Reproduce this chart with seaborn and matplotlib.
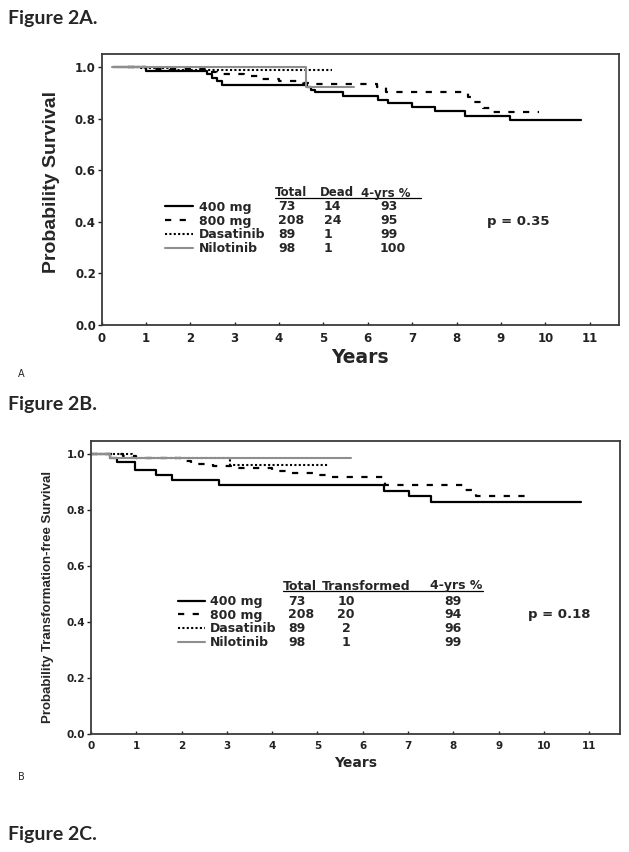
import matplotlib
matplotlib.use("Agg")
import matplotlib.pyplot as plt
import seaborn as sns
from matplotlib.lines import Line2D

# ---- data ----
groups = ["400 mg", "800 mg", "Dasatinib", "Nilotinib"]

# Figure 2A: overall survival (Kaplan-Meier step points)
a400_t = [0.25, 1.0, 2.38, 2.5, 2.6, 2.71, 4.62, 4.73, 4.81, 5.45, 6.23, 6.46, 6.99, 7.51, 8.19, 9.2, 10.81]
a400_s = [1.0, 0.986, 0.972, 0.958, 0.944, 0.93, 0.921, 0.911, 0.904, 0.888, 0.872, 0.859, 0.846, 0.829, 0.81, 0.793, 0.793]
a800_t = [0.6, 1.0, 2.45, 2.6, 3.2, 3.6, 4.0, 4.55, 4.7, 6.2, 6.4, 8.25, 8.4, 8.6, 8.75, 9.85]
a800_s = [1.0, 0.99, 0.98, 0.973, 0.963, 0.955, 0.946, 0.937, 0.933, 0.924, 0.904, 0.884, 0.865, 0.84, 0.827, 0.827]
adas_t = [0.6, 0.9, 1.5, 5.2]
adas_s = [1.0, 0.994, 0.988, 0.988]
anil_t = [0.23, 4.6, 5.7]
anil_s = [1.0, 0.924, 0.924]

a_total = [73, 208, 89, 98]
a_dead = [14, 24, 1, 1]
a_4yr = [93, 95, 99, 100]

# Figure 2B: transformation-free survival
b400_t = [0.0, 0.43, 0.58, 0.98, 1.43, 1.79, 2.83, 6.47, 7.02, 7.5, 10.81]
b400_s = [1.0, 0.987, 0.97, 0.943, 0.925, 0.907, 0.889, 0.869, 0.85, 0.827, 0.827]
b800_t = [0.0, 0.7, 1.0, 2.0, 2.2, 2.7, 3.2, 4.0, 4.4, 4.9, 5.2, 6.5, 8.25, 8.5, 9.65]
b800_s = [1.0, 0.993, 0.986, 0.975, 0.963, 0.955, 0.948, 0.938, 0.93, 0.925, 0.917, 0.889, 0.87, 0.848, 0.848]
bdas_t = [0.0, 0.9, 3.08, 5.25]
bdas_s = [1.0, 0.985, 0.96, 0.96]
bnil_t = [0.0, 0.43, 5.73]
bnil_s = [1.0, 0.987, 0.987]

b_total = [73, 208, 89, 98]
b_transformed = [10, 20, 2, 1]
b_4yr = [89, 94, 96, 99]

x_ticks = list(range(12))
y_ticks = [0.0, 0.2, 0.4, 0.6, 0.8, 1.0]

# ---- styling ----
sns.set_theme(style="white")
plt.rcParams["font.family"] = ["DejaVu Sans"]

STYLES = {
    "400 mg": dict(color="black", linewidth=1.6, linestyle="-"),
    "800 mg": dict(color="black", linewidth=1.6, linestyle=(0, (2.8, 3.8))),
    "Dasatinib": dict(color="black", linewidth=1.5, linestyle=(0, (1, 1.1))),
    "Nilotinib": dict(color="#8e8e8e", linewidth=1.5, linestyle="-"),
}

W, H = 629, 852


def fx(x):
    return x / W


def fy(y):
    return 1 - y / H


fig = plt.figure(figsize=(W / 100, H / 100), dpi=100)
axA = fig.add_axes([fx(101.5), fy(325), (619 - 101.5) / W, (325 - 54) / H])
axB = fig.add_axes([fx(91), fy(734), (620 - 91) / W, (734 - 441) / H])


def draw_curves(ax, curves):
    for name, t, s in curves:
        sns.lineplot(x=t, y=s, ax=ax, drawstyle="steps-post",
                     estimator=None, sort=False, **STYLES[name])


draw_curves(axA, [("400 mg", a400_t, a400_s), ("800 mg", a800_t, a800_s),
                  ("Dasatinib", adas_t, adas_s), ("Nilotinib", anil_t, anil_s)])
draw_curves(axB, [("400 mg", b400_t, b400_s), ("800 mg", b800_t, b800_s),
                  ("Dasatinib", bdas_t, bdas_s), ("Nilotinib", bnil_t, bnil_s)])


def style_axes(ax, xmax, ymax, tick_size, xpad):
    ax.set_xlim(0, xmax)
    ax.set_ylim(0, ymax)
    ax.set_xticks(x_ticks)
    ax.set_xticklabels([str(v) for v in x_ticks], fontweight="bold")
    ax.set_yticks(y_ticks)
    ax.set_yticklabels([f"{v:.1f}" for v in y_ticks], fontweight="bold")
    ax.set_xlabel("")
    ax.set_ylabel("")
    ax.tick_params(axis="x", direction="in", length=2.5, width=1,
                   pad=xpad, labelsize=tick_size, colors="#222222", bottom=True)
    ax.tick_params(axis="y", direction="out", length=3, width=1,
                   pad=1, labelsize=tick_size, colors="#222222", left=True)
    for sp in ax.spines.values():
        sp.set_linewidth(1.3)
        sp.set_color("#3a3a3a")
        sp.set_visible(True)


style_axes(axA, 11.66, 1.05, 8.5, 5)
style_axes(axB, 11.68, 1.046, 7.5, 5)

# axis titles
fig.text(fx(52), fy(182), "Probability Survival", rotation=90, ha="center",
         va="center", fontsize=14, fontweight="bold",
         family=["Liberation Sans", "DejaVu Sans"])
fig.text(fx(47.5), fy(597), "Probability Transformation-free Survival",
         rotation=90, ha="center", va="center", fontsize=9.5,
         fontweight="bold", family=["Liberation Sans", "DejaVu Sans"])
fig.text(fx(360), fy(358), "Years", ha="center", va="center",
         fontsize=13.5, fontweight="bold")
fig.text(fx(356), fy(763), "Years", ha="center", va="center",
         fontsize=10, fontweight="bold")


def risk_table(key_x, label_x, rows_y, header, header_y, underline_x, columns,
               header_size=9):
    for name, y in zip(groups, rows_y):
        st = STYLES[name]
        fig.add_artist(Line2D([fx(key_x[0]), fx(key_x[1])], [fy(y - 4.5), fy(y - 4.5)],
                              transform=fig.transFigure, color=st["color"],
                              linewidth=st["linewidth"], linestyle=st["linestyle"]))
        fig.text(fx(label_x), fy(y), name, fontsize=9, fontweight="bold",
                 va="baseline", ha="left")
    for text, x in header:
        fig.text(fx(x), fy(header_y), text, fontsize=header_size,
                 fontweight="bold", va="baseline", ha="left")
    fig.add_artist(Line2D([fx(underline_x[0]), fx(underline_x[1])],
                          [fy(header_y + 1.8), fy(header_y + 1.8)],
                          transform=fig.transFigure, color="black", linewidth=0.9))
    for values, x, ha in columns:
        for v, y in zip(values, rows_y):
            fig.text(fx(x), fy(y), str(v), fontsize=9, fontweight="bold",
                     va="baseline", ha=ha)


risk_table(key_x=(165, 193), label_x=199, rows_y=[210.5, 224.5, 238.5, 252.5],
           header=[("Total", 275), ("Dead", 320), ("4-yrs %", 361)],
           header_y=196.5, underline_x=(275, 421),
           columns=[(a_total, 278, "left"), (a_dead, 324, "left"), (a_4yr, 380, "left")],
           header_size=8.5)

risk_table(key_x=(178, 205), label_x=210, rows_y=[605, 618.5, 632.5, 646.5],
           header=[("Total", 283), ("Transformed", 322), ("4-yrs %", 430)],
           header_y=589.5, underline_x=(283, 483),
           columns=[(b_total, 288, "left"), (b_transformed, 346, "center"),
                    (b_4yr, 453, "center")])

fig.text(fx(487), fy(224.5), "p = 0.35", fontsize=9.5, fontweight="bold",
         va="baseline")
fig.text(fx(528), fy(618), "p = 0.18", fontsize=9.5, fontweight="bold",
         va="baseline")

# figure captions
cap = dict(fontsize=14, fontweight="bold", family=["Lato", "DejaVu Sans"],
           va="baseline", ha="left")
fig.text(fx(8), fy(24), "Figure 2A.", **cap)
fig.text(fx(8), fy(410), "Figure 2B.", **cap)
fig.text(fx(8), fy(840), "Figure 2C.", **cap)
fig.text(fx(18), fy(377), "A", fontsize=7, va="baseline")
fig.text(fx(18), fy(780), "B", fontsize=7, va="baseline")

fig.savefig("out.png", dpi=100)
